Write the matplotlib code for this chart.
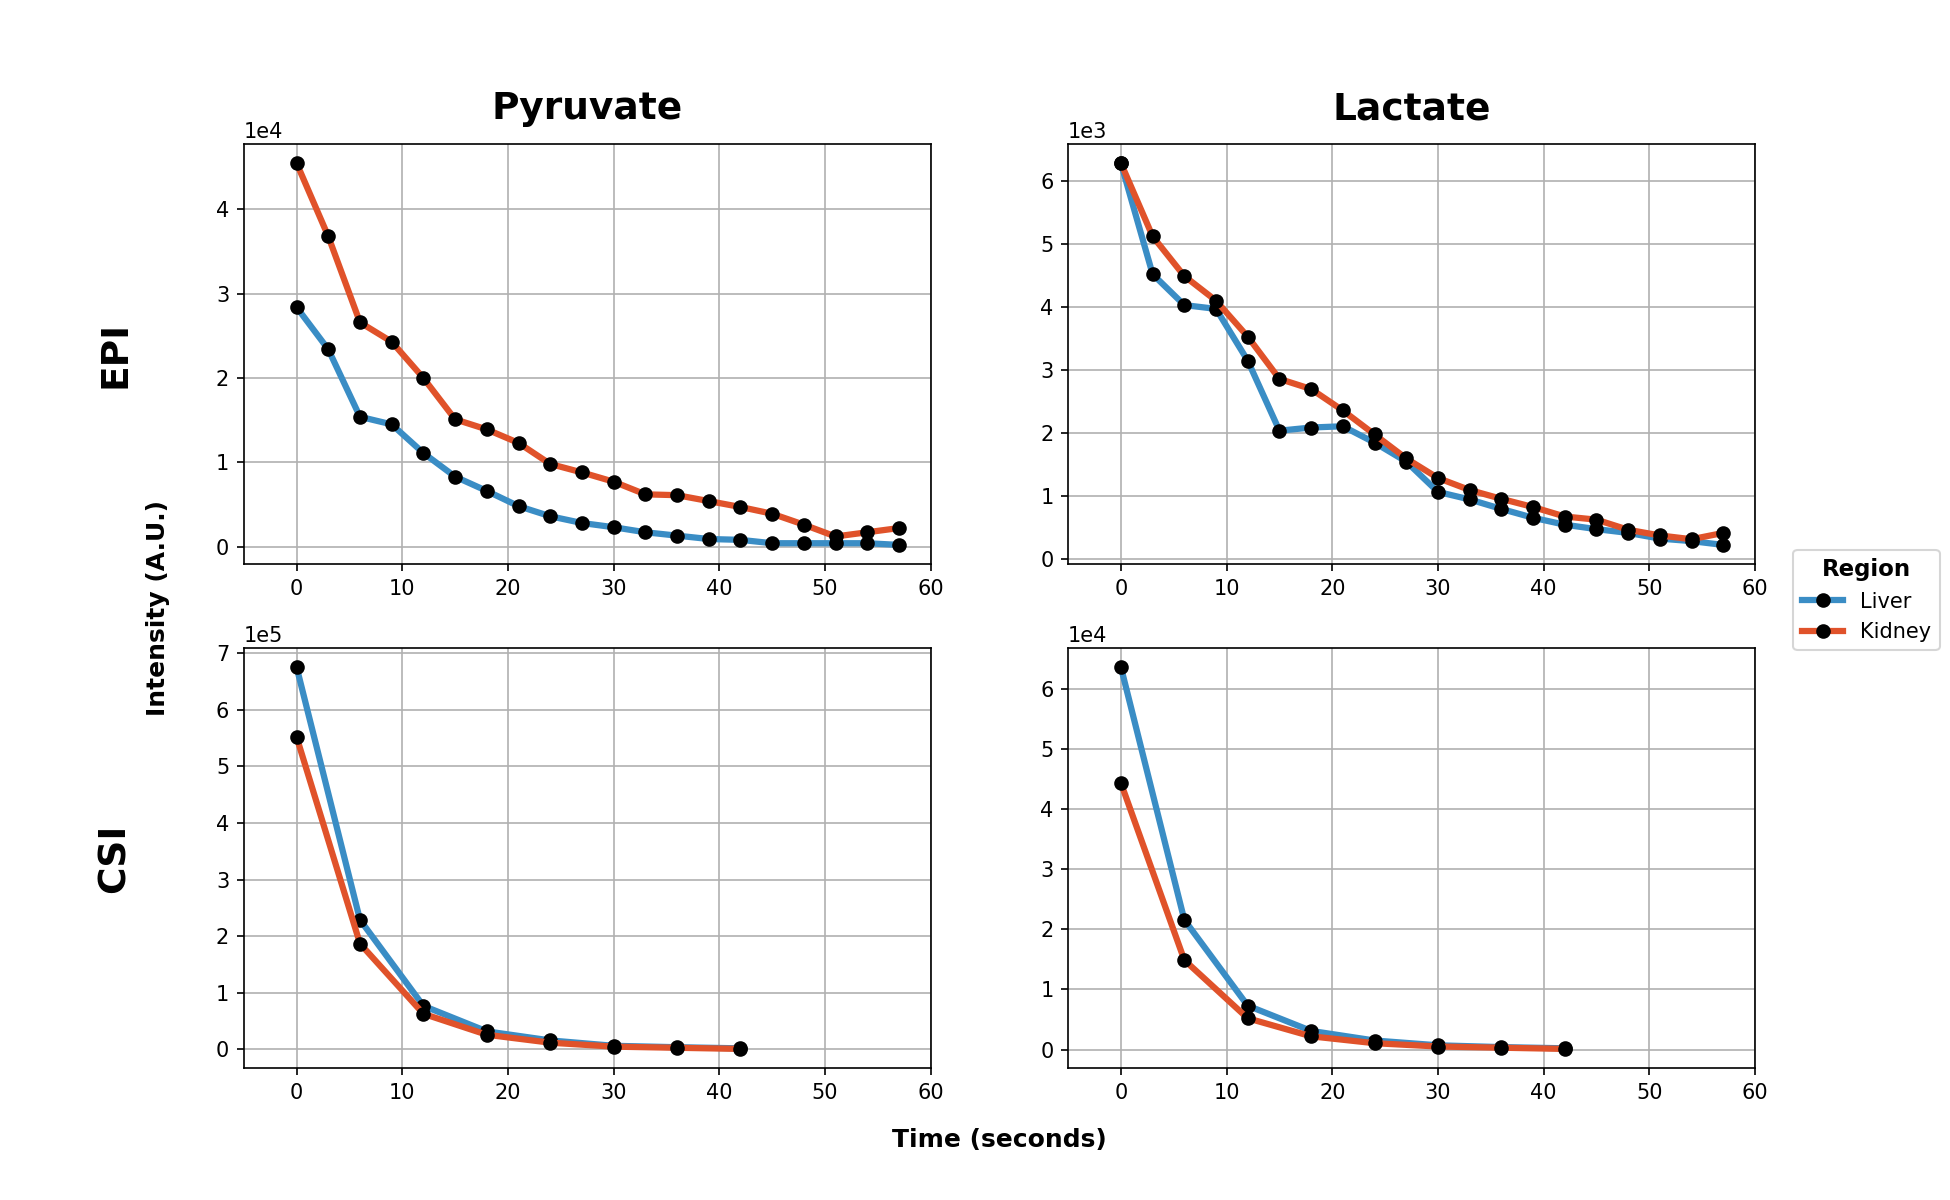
"""Hyperpolarized 13C time courses -- EPI vs CSI, pyruvate and lactate, liver vs kidney."""

import matplotlib
matplotlib.use("Agg")
import matplotlib.pyplot as plt
import numpy as np

# EPI: one frame every 3 s
t_epi = np.arange(0, 60, 3)
epi_pyr_liver = [28400, 23400, 15400, 14500, 11100, 8300, 6600, 4800, 3600, 2800,
                 2300, 1700, 1300, 900, 800, 400, 400, 400, 400, 200]
epi_pyr_kidney = [45500, 36800, 26600, 24300, 20000, 15100, 13900, 12300, 9800, 8800,
                  7700, 6200, 6100, 5400, 4700, 3900, 2600, 1200, 1700, 2200]
epi_lac_liver = [6280, 4520, 4030, 3970, 3150, 2040, 2090, 2110, 1850, 1550,
                 1070, 950, 800, 660, 550, 480, 420, 330, 290, 230]
epi_lac_kidney = [6280, 5120, 4490, 4100, 3530, 2860, 2700, 2360, 1980, 1600,
                  1290, 1100, 960, 830, 680, 630, 470, 380, 320, 420]

# CSI: one frame every 6 s
t_csi = np.arange(0, 48, 6)
csi_pyr_liver = [675500, 229000, 77000, 32000, 16000, 6500, 4000, 2000]
csi_pyr_kidney = [552000, 187000, 63000, 26000, 12000, 5000, 3000, 1000]
csi_lac_liver = [63700, 21600, 7300, 3100, 1500, 700, 400, 200]
csi_lac_kidney = [44400, 14900, 5200, 2200, 1050, 500, 300, 100]

metabolites = ["Pyruvate", "Lactate"]
methods = ["EPI", "CSI"]
regions = ["Liver", "Kidney"]
COLOR = {"Liver": "#3A8DC5", "Kidney": "#E0522A"}

data = {
    ("EPI", "Pyruvate"): (t_epi, epi_pyr_liver, epi_pyr_kidney),
    ("EPI", "Lactate"): (t_epi, epi_lac_liver, epi_lac_kidney),
    ("CSI", "Pyruvate"): (t_csi, csi_pyr_liver, csi_pyr_kidney),
    ("CSI", "Lactate"): (t_csi, csi_lac_liver, csi_lac_kidney),
}

fig, axes = plt.subplots(2, 2, figsize=(13, 8))

for i, method in enumerate(methods):
    for j, met in enumerate(metabolites):
        ax = axes[i, j]
        t, liver, kidney = data[(method, met)]
        for name, y in zip(regions, (liver, kidney)):
            ax.plot(t, y, color=COLOR[name], lw=3, marker="o", ms=6,
                    mfc="black", mec="black", label=name)
        ax.set_xlim(-5, 60)
        ax.grid(True)
        ax.ticklabel_format(axis="y", style="sci", scilimits=(0, 0))
        if i == 0:
            ax.set_title(met, fontsize=18, fontweight="bold", pad=12)

# row labels
for i, method in enumerate(methods):
    pos = axes[i, 0].get_position()
    fig.text(0.059, (pos.y0 + pos.y1) / 2, method, rotation=90, fontsize=18,
             fontweight="bold", ha="center", va="center")

fig.text(0.081, 0.493, "Intensity (A.U.)", rotation=90, fontsize=12,
         fontweight="bold", ha="center", va="center")
fig.text(0.5125, 0.05, "Time (seconds)", fontsize=12, fontweight="bold",
         ha="center", va="center")

handles, labels = axes[0, 0].get_legend_handles_labels()
leg = fig.legend(handles, labels, title="Region", loc="center right",
                 bbox_to_anchor=(1.0, 0.5), fontsize=10, title_fontsize=11)
leg.get_title().set_fontweight("bold")

fig.savefig("out.png", dpi=150)
